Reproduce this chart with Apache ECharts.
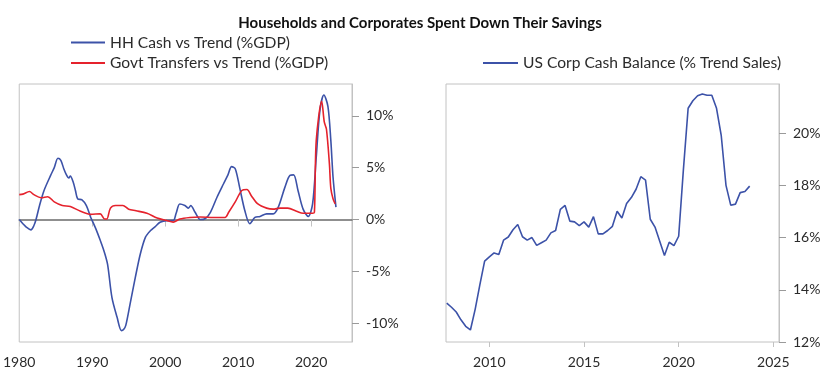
<!DOCTYPE html>
<html>
<head>
<meta charset="utf-8">
<script src="https://cdn.jsdelivr.net/npm/echarts@6/dist/echarts.min.js"></script>
<style>
html,body{margin:0;padding:0;background:#fff;}
#chart{width:840px;height:379px;}
</style>
</head>
<body>
<div id="chart"></div>
<script>
// ---- Data ----
const titleText = 'Households and Corporates Spent Down Their Savings';
const hhName = 'HH Cash vs Trend (%GDP)';
const govName = 'Govt Transfers vs Trend (%GDP)';
const corpName = 'US Corp Cash Balance (% Trend Sales)';

// [year, % of GDP]
const hhCash = [
  [1980.0,0.0],[1980.5,-0.4],[1981.0,-0.75],[1981.6,-1.0],[1982.0,-0.6],[1982.3,0.0],[1982.8,1.4],
  [1983.4,2.8],[1984.3,4.25],[1984.8,5.0],[1985.3,5.9],[1985.7,5.7],[1986.1,4.9],[1986.4,4.4],
  [1986.8,4.0],[1987.0,4.2],[1987.4,3.6],[1987.7,2.8],[1988.0,2.0],[1988.6,1.9],[1989.2,1.35],
  [1989.8,0.2],[1990.0,-0.1],[1990.5,-0.9],[1991.1,-2.0],[1991.6,-3.0],[1992.1,-4.3],[1992.7,-7.5],
  [1993.4,-9.4],[1994.0,-10.7],[1994.3,-10.6],[1994.6,-10.2],[1995.2,-8.1],[1995.9,-5.6],[1996.6,-3.3],
  [1997.3,-1.7],[1998.0,-1.06],[1998.6,-0.7],[1999.3,-0.26],[2000.2,-0.1],[2001.1,-0.1],[2001.5,0.6],
  [2002.0,1.5],[2002.7,1.35],[2003.2,1.1],[2003.5,1.35],[2004.1,0.7],[2004.8,0.0],[2005.5,0.1],
  [2006.2,0.7],[2007.1,2.15],[2008.0,3.45],[2008.6,4.3],[2009.1,5.1],[2009.6,4.9],[2010.2,3.1],
  [2010.9,0.9],[2011.6,-0.4],[2012.3,0.2],[2013.0,0.3],[2013.9,0.55],[2014.8,0.55],[2015.5,1.2],
  [2016.4,3.1],[2017.1,4.25],[2017.6,4.3],[2018.2,2.8],[2018.9,1.0],[2019.6,0.3],[2020.2,1.5],
  [2020.7,6.0],[2021.2,10.5],[2021.75,12.0],[2022.3,10.9],[2022.7,7.6],[2023.0,4.1],[2023.4,1.2]
];
const govTransfers = [
  [1980.0,2.4],[1980.5,2.45],[1981.4,2.7],[1982.0,2.4],[1983.0,2.1],[1983.9,2.2],[1984.8,1.7],
  [1985.9,1.35],[1987.0,1.25],[1988.4,0.8],[1989.8,0.5],[1991.1,0.55],[1991.7,0.05],[1992.0,0.05],
  [1992.5,1.1],[1993.2,1.35],[1994.2,1.35],[1995.0,1.0],[1996.0,0.85],[1997.5,0.6],[1998.9,0.15],
  [2000.2,-0.1],[2001.1,-0.25],[2002.0,0.05],[2003.4,0.2],[2004.8,0.25],[2006.6,0.2],[2008.2,0.2],
  [2008.7,0.7],[2009.6,1.7],[2010.5,2.8],[2011.2,2.9],[2011.8,2.3],[2012.7,1.5],[2013.9,1.1],
  [2014.8,1.0],[2015.7,1.1],[2016.8,1.1],[2018.0,0.8],[2018.9,0.6],[2020.2,0.6],[2020.45,0.7],
  [2020.7,7.6],[2021.45,11.4],[2021.8,9.4],[2022.1,8.7],[2022.5,5.4],[2022.7,3.0],[2023.0,2.0],[2023.3,1.5]
];

// Quarterly corporate cash balance (% trend sales)
const corpQuarters = [];
for (let i = 0; i < 65; i++) corpQuarters.push(2007.75 + i * 0.25);
const corpCash = [
  13.49,13.33,13.15,12.85,12.6,12.46,13.25,14.2,15.1,15.26,15.41,15.35,15.9,16.02,16.3,16.5,
  16.03,15.9,16.0,15.7,15.8,15.9,16.18,16.27,17.08,17.23,16.63,16.6,16.46,16.6,16.4,16.8,
  16.14,16.14,16.27,16.43,17.01,16.75,17.3,17.53,17.85,18.33,18.2,16.7,16.4,15.86,15.31,15.82,
  15.69,16.05,18.6,20.95,21.24,21.43,21.5,21.45,21.45,20.95,19.9,18.0,17.24,17.28,17.72,17.76,17.97
];

const leftXTicks = [1980, 1990, 2000, 2010, 2020];
const leftYTicks = [-10, -5, 0, 5, 10];
const rightXTicks = [2010, 2015, 2020, 2025];
const rightYTicks = [12, 14, 16, 18, 20];

// ---- Styles ----
const FONT = 'Lato';
const TXT = '#2b2b2b';
const BORDER = '#c2c2c2';
const BLUE = '#3c52a8';
const RED = '#e5222c';

const chart = echarts.init(document.getElementById('chart'), null, {renderer: 'canvas'});
const pct = v => v + '%';
const yr = v => String(Math.round(v));
const legendStyle = {fontFamily: FONT, fontSize: 15.6, color: TXT, lineHeight: 18};

const option = {
  animation: false,
  backgroundColor: '#fff',
  textStyle: {fontFamily: FONT},
  title: {
    text: titleText,
    left: 'center', top: 11,
    textStyle: {fontFamily: FONT, fontWeight: 'bold', fontSize: 15, color: '#111'}
  },
  legend: [
    {data: [hhName], left: 71, top: 33.5, padding: 0, icon: 'rect', itemWidth: 34, itemHeight: 2, itemGap: 7,
     textStyle: legendStyle},
    {data: [govName], left: 71, top: 54, padding: 0, icon: 'rect', itemWidth: 34, itemHeight: 2, itemGap: 7,
     textStyle: legendStyle},
    {data: [corpName], left: 483, top: 54, padding: 0, icon: 'rect', itemWidth: 35, itemHeight: 2, itemGap: 7,
     textStyle: legendStyle}
  ],
  grid: [
    {left: 18, top: 84, width: 334, height: 258, show: true, borderColor: BORDER, borderWidth: 1, containLabel: false},
    {left: 446, top: 84, width: 333, height: 258, show: true, borderColor: BORDER, borderWidth: 1, containLabel: false}
  ],
  xAxis: [
    {gridIndex: 0, type: 'value', min: 1980, max: 2025.6, position: 'bottom',
     axisLine: {show: false, onZero: false}, splitLine: {show: false},
     axisTick: {show: false},
     axisLabel: {customValues: leftXTicks, formatter: yr, color: TXT, fontSize: 14, fontFamily: FONT, margin: 13}},
    {gridIndex: 0, type: 'value', min: 1980, max: 2025.6, position: 'bottom',
     axisLine: {show: true, onZero: true, lineStyle: {color: '#6b6b6b', width: 1.5}},
     splitLine: {show: false},
     axisTick: {show: true, customValues: leftXTicks, length: 7, lineStyle: {color: '#c2c2c2', width: 1}},
     axisLabel: {show: false}},
    {gridIndex: 1, type: 'value', min: 2007.71, max: 2025.3, position: 'bottom',
     axisLine: {show: false, onZero: false}, splitLine: {show: false},
     axisTick: {show: true, customValues: rightXTicks, length: 5, lineStyle: {color: BORDER}},
     axisLabel: {customValues: rightXTicks, formatter: yr, color: TXT, fontSize: 14, fontFamily: FONT, margin: 13}}
  ],
  yAxis: [
    {gridIndex: 0, type: 'value', min: -11.8, max: 13.06, position: 'right',
     axisLine: {show: true, onZero: false, lineStyle: {color: BORDER}},
     splitLine: {show: false},
     axisTick: {show: true, customValues: leftYTicks, length: 7, lineStyle: {color: '#9a9a9a'}},
     axisLabel: {customValues: leftYTicks, formatter: pct, color: TXT, fontSize: 14, fontFamily: FONT, margin: 14}},
    {gridIndex: 1, type: 'value', min: 12, max: 21.88, position: 'right',
     axisLine: {show: true, onZero: false, lineStyle: {color: BORDER}},
     splitLine: {show: false},
     axisTick: {show: true, customValues: rightYTicks, length: 7, lineStyle: {color: '#9a9a9a'}},
     axisLabel: {customValues: rightYTicks, formatter: pct, color: TXT, fontSize: 14, fontFamily: FONT, margin: 14}}
  ],
  series: [
    {name: hhName, type: 'line', xAxisIndex: 0, yAxisIndex: 0, data: hhCash,
     symbol: 'none', smooth: 0.3, lineStyle: {color: BLUE, width: 1.6}, itemStyle: {color: BLUE}},
    {name: govName, type: 'line', xAxisIndex: 0, yAxisIndex: 0, data: govTransfers,
     symbol: 'none', smooth: 0.3, lineStyle: {color: RED, width: 1.6}, itemStyle: {color: RED}},
    {name: corpName, type: 'line', xAxisIndex: 2, yAxisIndex: 1,
     data: corpQuarters.map((q, i) => [q, corpCash[i]]),
     symbol: 'none', lineStyle: {color: BLUE, width: 1.6}, itemStyle: {color: BLUE}}
  ]
};
chart.setOption(option);
</script>
</body>
</html>
